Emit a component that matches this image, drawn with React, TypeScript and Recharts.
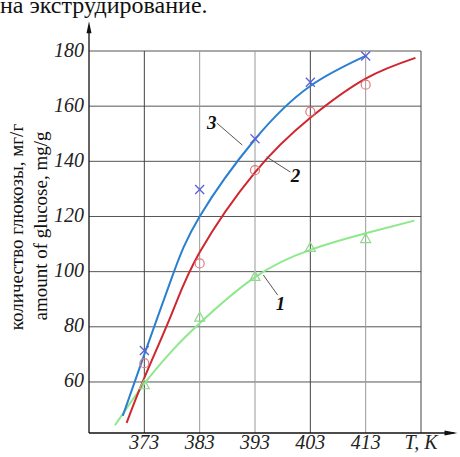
import React from 'react';
import {
  ComposedChart,
  Line,
  Scatter,
  XAxis,
  YAxis,
  ReferenceLine,
  ReferenceDot,
  Label,
} from 'recharts';

// measured temperatures (K)
const temps = [373, 383, 393, 403, 413];
const xTicks = [373, 383, 393, 403, 413, 423];
const yTicks = [60, 80, 100, 120, 140, 160, 180];
const darkGridX = [373, 403, 423];
const lightGridX = [383, 393, 413];

// measured points
const meas3 = [71.4, 129.8, 148.2, 168.7, 178.2];
const meas2 = [66.8, 103, 136.8, 158, 167.8];
const meas1 = [59, 83.5, 98.3, 108.8, 112];

// fitted curves
const fit3T = [369.1, 373, 378, 383, 393, 403, 413];
const fit3V = [47.7, 70, 98, 120, 148, 167.3, 178.2];
const fit2T = [369.8, 373, 378, 383, 393, 403, 413, 422];
const fit2V = [45.2, 61.5, 85, 107, 136, 155.8, 170, 177.5];
const fit1T = [367.7, 373, 378, 383, 393, 403, 413, 421.8];
const fit1V = [44.3, 59.4, 71.3, 81.3, 98, 107.9, 113.9, 118.5];

const X_DOMAIN: [number, number] = [363, 423];
const Y_DOMAIN: [number, number] = [41.5, 180];

const zip = (ts: number[], vs: number[]) => ts.map((t, i) => ({ t, v: vs[i] }));
const pts3 = zip(temps, meas3);
const pts2 = zip(temps, meas2);
const pts1 = zip(temps, meas1);
const line3 = zip(fit3T, fit3V);
const line2 = zip(fit2T, fit2V);
const line1 = zip(fit1T, fit1V);

// curve number annotations: text position and leader line (data coordinates)
const annotations = [
  { text: '3', at: [385.2, 154.3], from: [386.1, 153.9], to: [390.7, 145.9] },
  { text: '2', at: [400.3, 135.0], from: [399.4, 136.1], to: [395.1, 141.6] },
  { text: '1', at: [397.6, 88.6], from: [397.1, 91.5], to: [394.5, 98.8] },
];

const SERIF = 'Liberation Serif, Times New Roman, serif';
const BLUE = '#2b7fd0';
const RED = '#d0262e';
const GREEN = '#8ee88c';

const CrossShape = (p: any) => {
  const { cx, cy } = p;
  const s = 4.5;
  return (
    <g stroke="#5b63d6" strokeWidth={1.3}>
      <line x1={cx - s} y1={cy - s} x2={cx + s} y2={cy + s} />
      <line x1={cx - s} y1={cy + s} x2={cx + s} y2={cy - s} />
    </g>
  );
};
const CircleShape = (p: any) => (
  <circle cx={p.cx} cy={p.cy} r={4.5} fill="none" stroke="#e3787a" strokeWidth={1.2} />
);
const TriShape = (p: any) => {
  const { cx, cy } = p;
  return (
    <polygon
      points={`${cx},${cy - 5} ${cx - 5},${cy + 4} ${cx + 5},${cy + 4}`}
      fill="none"
      stroke="#8fd88c"
      strokeWidth={1.2}
    />
  );
};
const ArrowUp = (p: any) => {
  const { cx, cy } = p;
  return <polygon points={`${cx},${cy} ${cx - 2.5},${cy + 12} ${cx + 2.5},${cy + 12}`} fill="#111" />;
};
const ArrowRight = (p: any) => {
  const { cx, cy } = p;
  return <polygon points={`${cx},${cy} ${cx - 13},${cy - 2.5} ${cx - 13},${cy + 2.5}`} fill="#111" />;
};

const YTitle = () => (
  <g style={{ fontFamily: SERIF }} fontSize={19} fill="#111">
    <text transform="translate(16,227) rotate(-90)" textAnchor="middle" dominantBaseline="central">
      количество глюкозы, мг/г
    </text>
    <text transform="translate(40,226) rotate(-90)" textAnchor="middle" dominantBaseline="central">
      amount of glucose, mg/g
    </text>
  </g>
);

const XTick = (p: any) => {
  const { x, y, payload } = p;
  const v = payload.value;
  return (
    <text
      x={x}
      y={y + 16}
      textAnchor="middle"
      style={{ fontFamily: SERIF, fontStyle: 'italic', fontSize: 20 }}
      fill="#222"
    >
      {v === 423 ? 'T, K' : String(v)}
    </text>
  );
};
const YTick = (p: any) => {
  const { x, y, payload } = p;
  return (
    <text
      x={x - 5}
      y={y + 5.5}
      textAnchor="end"
      style={{ fontFamily: SERIF, fontStyle: 'italic', fontSize: 20 }}
      fill="#222"
    >
      {String(payload.value)}
    </text>
  );
};

export default function App() {
  return (
    <div style={{ position: 'absolute', left: 0, top: 0, width: 460, height: 457, background: '#fff' }}>
      <div
        style={{
          position: 'absolute',
          left: 0,
          top: -7,
          fontFamily: SERIF,
          fontSize: 24,
          lineHeight: '24px',
          color: '#111',
          whiteSpace: 'nowrap',
        }}
      >
        на экструдирование.
      </div>
      <ComposedChart width={460} height={457} margin={{ top: 51, right: 39, bottom: 0, left: 0 }}>
        <XAxis
          type="number"
          dataKey="t"
          domain={X_DOMAIN}
          allowDataOverflow
          ticks={xTicks}
          height={24}
          axisLine={false}
          tickLine={false}
          tickSize={0}
          tickMargin={0}
          tick={<XTick />}
          interval={0}
        />
        <YAxis
          type="number"
          dataKey="v"
          domain={Y_DOMAIN}
          allowDataOverflow
          ticks={yTicks}
          width={89}
          axisLine={false}
          tickLine={false}
          tickSize={0}
          tickMargin={0}
          tick={<YTick />}
          interval={0}
        >
          <Label content={<YTitle />} />
        </YAxis>

        {yTicks.map((v) => (
          <ReferenceLine key={'h' + v} y={v} stroke="#555" strokeWidth={1} />
        ))}
        {darkGridX.map((v) => (
          <ReferenceLine key={'dx' + v} x={v} stroke="#444" strokeWidth={1} />
        ))}
        {lightGridX.map((v) => (
          <ReferenceLine key={'lx' + v} x={v} stroke="#999" strokeWidth={1} />
        ))}

        {/* axes with arrows */}
        <ReferenceLine
          segment={[{ x: X_DOMAIN[0], y: Y_DOMAIN[0] }, { x: 429, y: Y_DOMAIN[0] }]}
          stroke="#111"
          strokeWidth={1.3}
          ifOverflow="visible"
        />
        <ReferenceLine
          segment={[{ x: X_DOMAIN[0], y: Y_DOMAIN[0] }, { x: X_DOMAIN[0], y: 189 }]}
          stroke="#111"
          strokeWidth={1.3}
          ifOverflow="visible"
        />
        <ReferenceDot x={429.6} y={Y_DOMAIN[0]} ifOverflow="visible" shape={ArrowRight} />
        <ReferenceDot x={X_DOMAIN[0]} y={190.8} ifOverflow="visible" shape={ArrowUp} />

        <Line data={line1} dataKey="v" type="natural" stroke={GREEN} strokeWidth={2} dot={false} isAnimationActive={false} />
        <Line data={line2} dataKey="v" type="natural" stroke={RED} strokeWidth={2} dot={false} isAnimationActive={false} />
        <Line data={line3} dataKey="v" type="natural" stroke={BLUE} strokeWidth={2} dot={false} isAnimationActive={false} />

        <Scatter data={pts1} dataKey="v" shape={TriShape} isAnimationActive={false} />
        <Scatter data={pts2} dataKey="v" shape={CircleShape} isAnimationActive={false} />
        <Scatter data={pts3} dataKey="v" shape={CrossShape} isAnimationActive={false} />

        {annotations.map((a) => (
          <ReferenceLine
            key={'l' + a.text}
            segment={[{ x: a.from[0], y: a.from[1] }, { x: a.to[0], y: a.to[1] }]}
            stroke="#555"
            strokeWidth={1}
            ifOverflow="visible"
          />
        ))}
        {annotations.map((a) => (
          <ReferenceDot
            key={'t' + a.text}
            x={a.at[0]}
            y={a.at[1]}
            r={0}
            fill="none"
            stroke="none"
            ifOverflow="visible"
            label={{
              value: a.text,
              position: 'center',
              style: { fontFamily: SERIF, fontStyle: 'italic', fontWeight: 'bold', fontSize: 19, fill: '#111' },
            }}
          />
        ))}
      </ComposedChart>
    </div>
  );
}
